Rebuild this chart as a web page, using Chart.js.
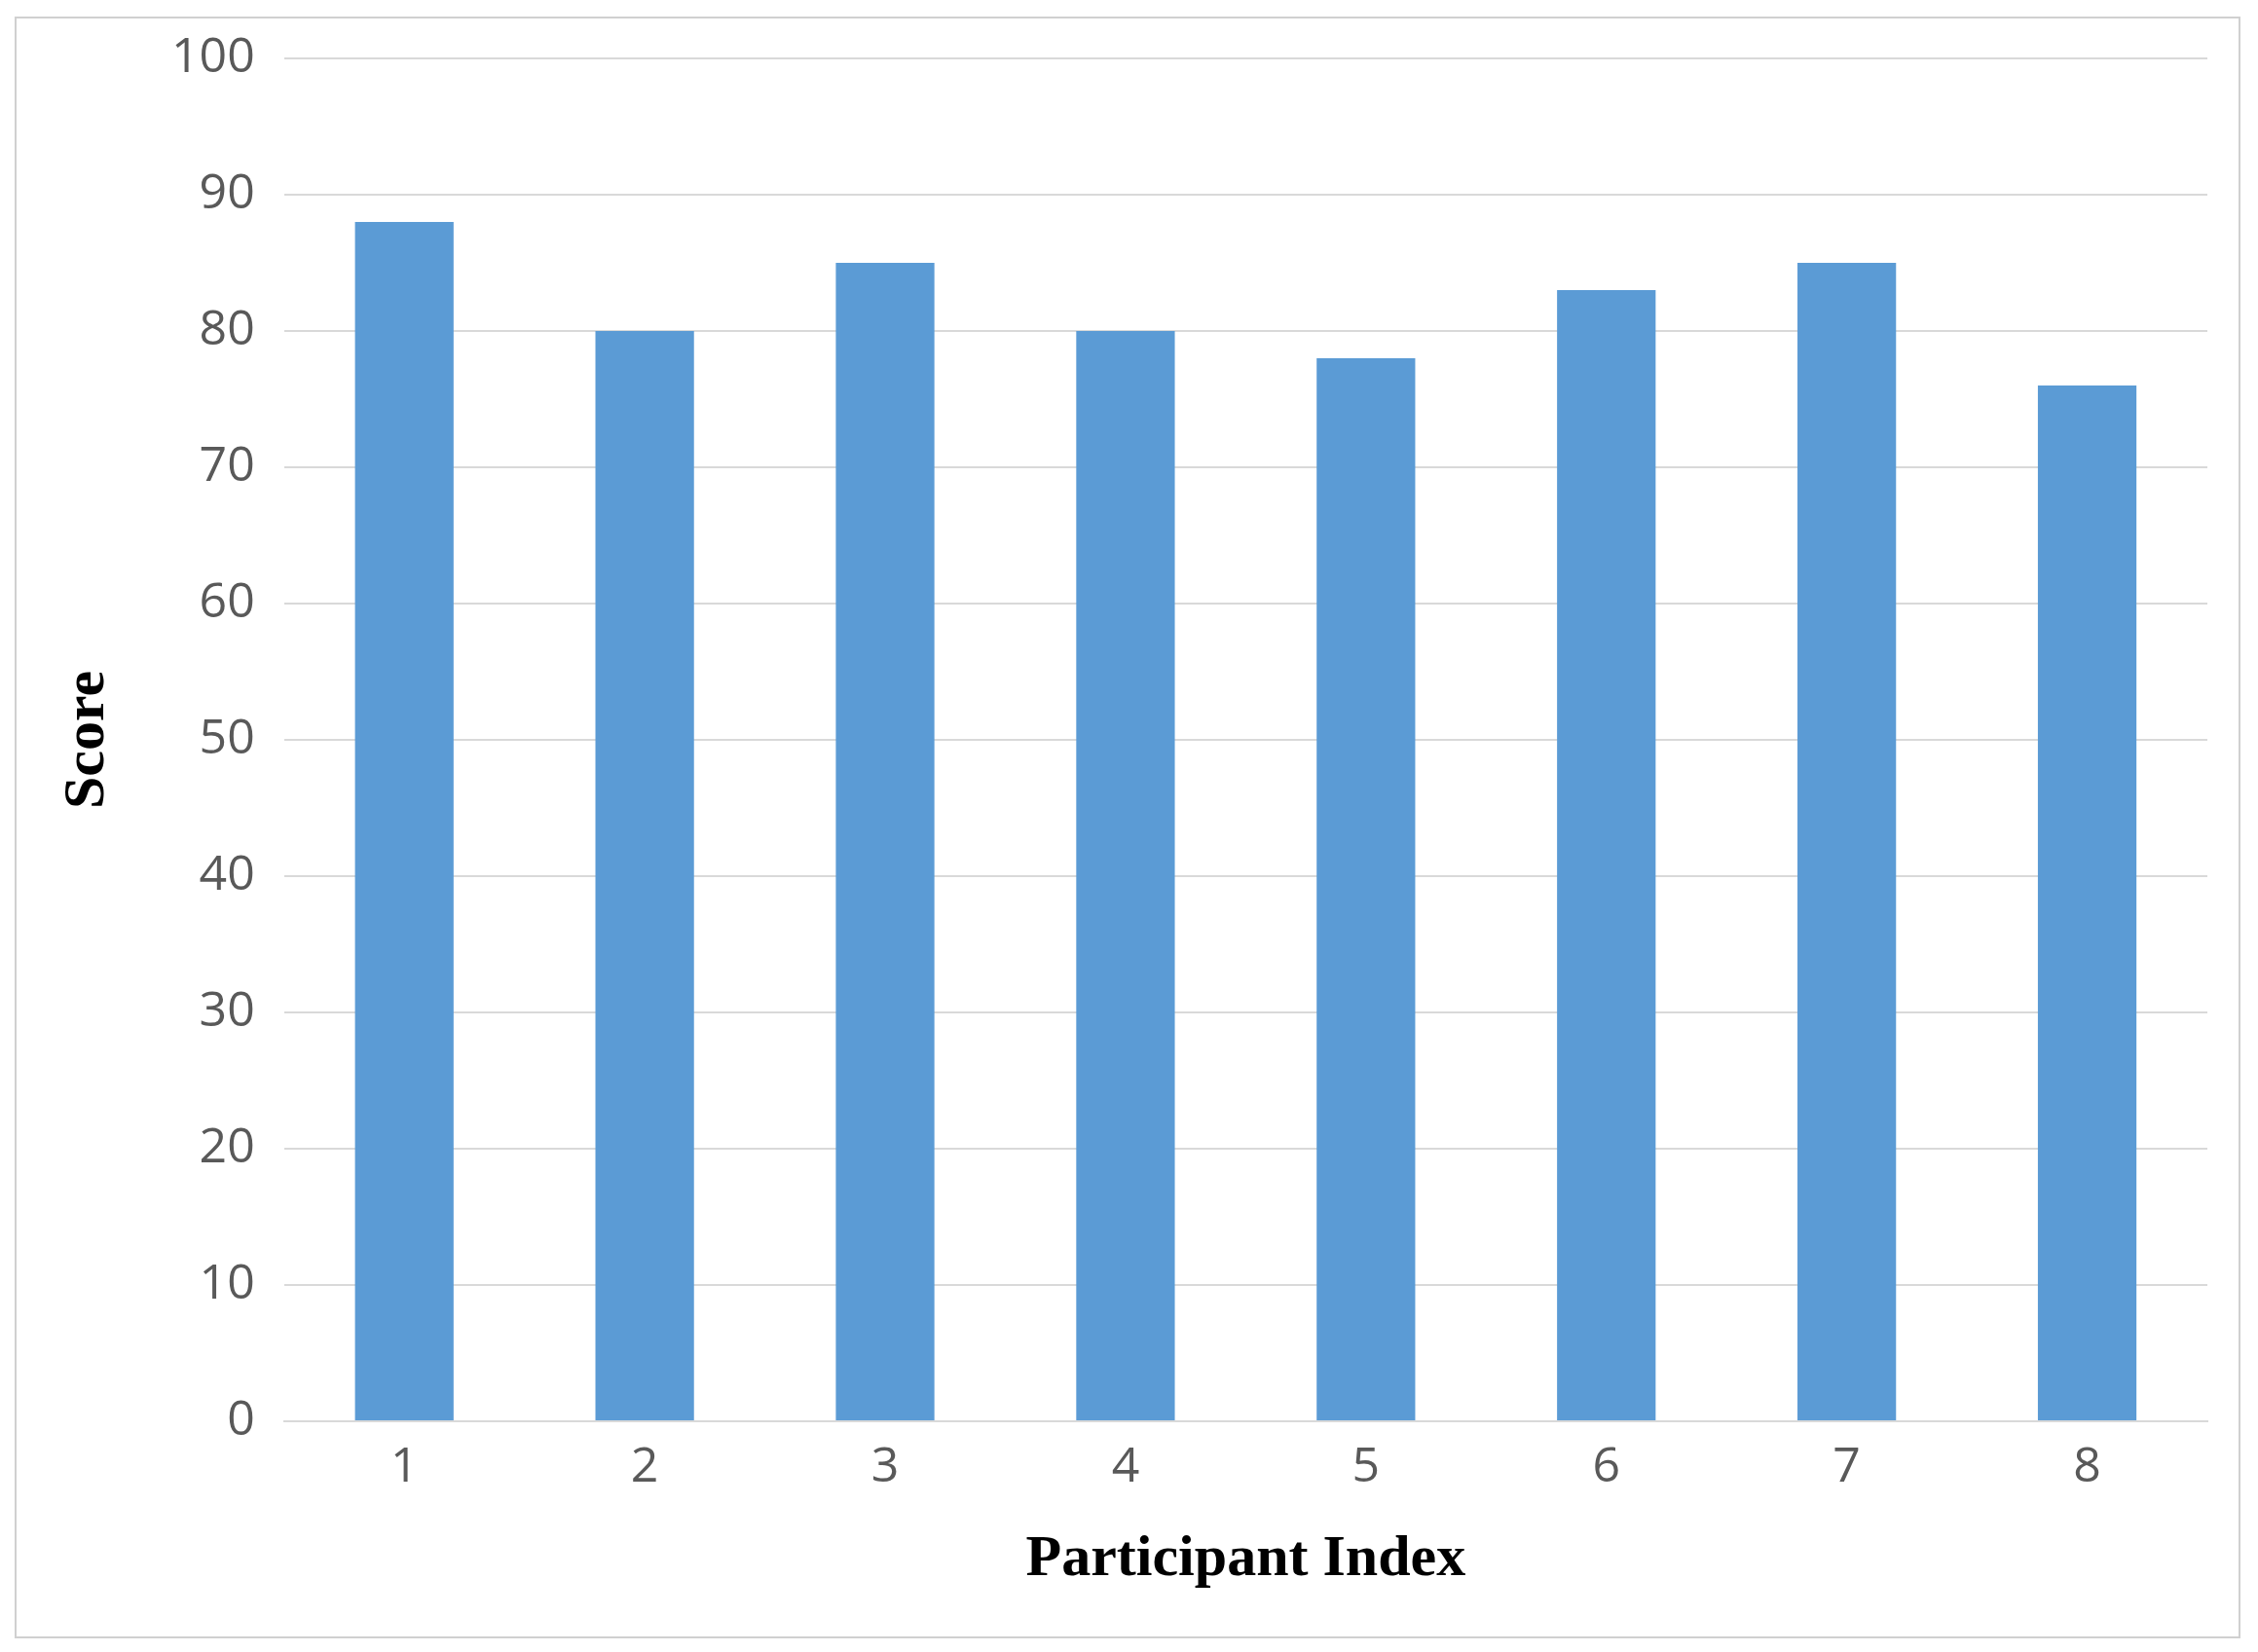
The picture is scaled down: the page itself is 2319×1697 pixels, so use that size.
<!DOCTYPE html>
<html>
<head>
<meta charset="UTF-8">
<script src="https://cdn.jsdelivr.net/npm/chart.js"></script>
<style>
  html, body { margin: 0; padding: 0; background: #fff; }
  #wrap { position: relative; width: 2319px; height: 1697px; }
  #frame { position: absolute; left: 15px; top: 17px; right: 18px; bottom: 14px; border: 2px solid #d0d0d0; pointer-events: none; }
  canvas { position: absolute; left: 0; top: 0; }
</style>
</head>
<body>
<div id="wrap">
  <canvas id="chart" width="2319" height="1697"></canvas>
  <div id="frame"></div>
</div>
<script>
  // Data
  var participants = ['1', '2', '3', '4', '5', '6', '7', '8'];
  var scores = [88, 80, 85, 80, 78, 83, 85, 76];

  var tickFont = { family: 'Open Sans', size: 50 };
  var titleFont = { family: 'Liberation Serif', size: 60, weight: 'bold' };

  new Chart(document.getElementById('chart'), {
    type: 'bar',
    data: {
      labels: participants,
      datasets: [{
        label: 'Score',
        data: scores,
        backgroundColor: '#5B9BD5',
        categoryPercentage: 1.0,
        barPercentage: 0.41
      }]
    },
    options: {
      responsive: false,
      animation: false,
      devicePixelRatio: 1,
      layout: { padding: { left: 50, right: 52, top: 45, bottom: 55 } },
      plugins: { legend: { display: false }, tooltip: { enabled: false } },
      scales: {
        x: {
          grid: { display: false, drawTicks: false },
          border: { color: '#D9D9D9', width: 2 },
          ticks: { color: '#595959', font: tickFont, padding: 18 },
          title: { display: true, text: 'Participant Index', color: '#000', font: titleFont, padding: { top: 10 } }
        },
        y: {
          min: 0, max: 100,
          ticks: { stepSize: 10, color: '#595959', font: tickFont, padding: 30 },
          grid: { color: '#D9D9D9', lineWidth: 2, drawTicks: false },
          border: { display: false },
          title: { display: true, text: 'Score', color: '#000', font: titleFont, padding: { bottom: 20 } }
        }
      }
    }
  });
</script>
</body>
</html>
